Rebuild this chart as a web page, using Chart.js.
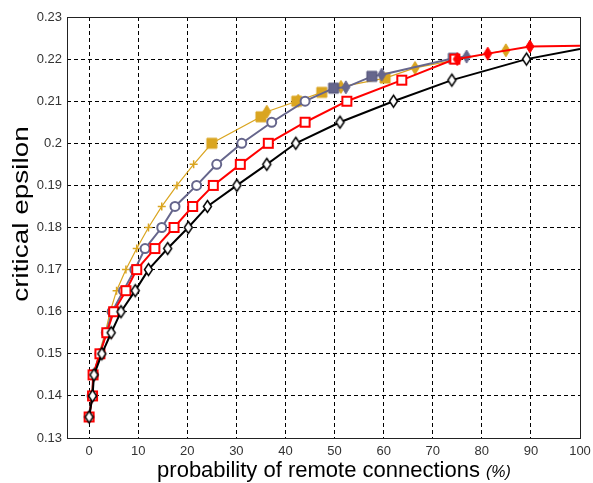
<!DOCTYPE html>
<html>
<head>
<meta charset="utf-8">
<script src="https://cdn.jsdelivr.net/npm/chart.js@4.4.1/dist/chart.umd.min.js"></script>
<style>
  html, body { margin: 0; padding: 0; background: #fff; }
</style>
</head>
<body>
<canvas id="chart" width="593" height="483"></canvas>
<script>
// tick labels
const xTicks = [0, 10, 20, 30, 40, 50, 60, 70, 80, 90, 100];
const yTicks = [0.13, 0.14, 0.15, 0.16, 0.17, 0.18, 0.19, 0.2, 0.21, 0.22, 0.23];

// black curve, open diamonds
const blackX = [0, 0.7, 1, 2.6, 4.5, 6.5, 9.4, 12.1, 16, 20.2, 24.1, 30.1, 36.2, 42.1, 51.1, 62, 73.9, 89.1];
const blackY = [0.135, 0.14, 0.145, 0.15, 0.155, 0.16, 0.165, 0.17, 0.175, 0.18, 0.185, 0.19, 0.195, 0.2, 0.205, 0.21, 0.215, 0.22];
const blackEnd = [100, 0.2224];

// red curve, open squares then filled diamonds
const redSqX = [0, 0.7, 0.8, 2.2, 3.6, 5, 7.5, 9.7, 13.4, 17.3, 21.1, 25.3, 30.8, 36.5, 44, 52.5, 63.7, 74.5];
const redSqY = [0.135, 0.14, 0.145, 0.15, 0.155, 0.16, 0.165, 0.17, 0.175, 0.18, 0.185, 0.19, 0.195, 0.2, 0.205, 0.21, 0.215, 0.22];
const redDiaX = [75, 81.2, 89.8];
const redDiaY = [0.22, 0.2213, 0.223];
const redEnd = [100, 0.2232];

// slate curve, open circles then filled squares / diamonds
const grayCircX = [0, 0.6, 0.9, 2.2, 3.5, 4.7, 7, 9.3, 11.4, 14.8, 17.5, 21.9, 26, 31.1, 37.2, 44];
const grayCircY = [0.135, 0.14, 0.145, 0.15, 0.155, 0.16, 0.165, 0.17, 0.175, 0.18, 0.185, 0.19, 0.195, 0.2, 0.205, 0.21];
const graySqX = [49.8, 57.6, 74.2];
const graySqY = [0.2131, 0.2159, 0.2202];
const grayDiaX = [52.3, 59.6, 76.9];
const grayDiaY = [0.2133, 0.2163, 0.2206];

// gold curve, crosses then filled squares / diamonds
const goldCrossX = [0, 0.5, 0.9, 2, 3.3, 4.3, 5.6, 7.5, 9.7, 12.1, 14.8, 17.9, 21.3];
const goldCrossY = [0.135, 0.14, 0.145, 0.15, 0.155, 0.16, 0.165, 0.17, 0.175, 0.18, 0.185, 0.19, 0.195];
const goldSqX = [25, 35, 42.3, 47.4, 60.3];
const goldSqY = [0.2, 0.2063, 0.21, 0.2121, 0.2155];
const goldDiaX = [36.2, 42.6, 51.3, 66.4, 84.9];
const goldDiaY = [0.2075, 0.2101, 0.2134, 0.2179, 0.2221];

const BLACK = '#000000', RED = '#ff0000', GRAY = '#66668c', GOLD = '#daa520';

const pts = (xs, ys) => xs.map((x, i) => ({ x: x, y: ys[i] }));
const byX = (a, b) => a.x - b.x;

// little canvases used as point styles (narrow matlab-like diamonds, squares)
function marker(shape, w, h, fill, stroke, lw) {
  const c = document.createElement('canvas');
  c.width = w + lw * 2 + 2;
  c.height = h + lw * 2 + 2;
  const g = c.getContext('2d');
  const cx = c.width / 2, cy = c.height / 2;
  g.beginPath();
  if (shape === 'diamond') {
    g.moveTo(cx, cy - h / 2);
    g.lineTo(cx + w / 2, cy);
    g.lineTo(cx, cy + h / 2);
    g.lineTo(cx - w / 2, cy);
    g.closePath();
  } else {
    g.rect(cx - w / 2, cy - h / 2, w, h);
  }
  if (fill) { g.fillStyle = fill; g.fill(); }
  g.lineWidth = lw;
  g.strokeStyle = stroke;
  g.stroke();
  return c;
}

const lineSet = (data, color, width) => ({
  data: data, showLine: true, borderColor: color, borderWidth: width,
  pointRadius: 0, tension: 0
});
const markSet = (data, style, extra) => Object.assign({
  data: data, showLine: false, pointStyle: style, pointRadius: 5
}, extra || {});

const goldLine = pts(goldCrossX, goldCrossY).concat(pts(goldSqX, goldSqY), pts(goldDiaX, goldDiaY)).sort(byX);
const grayLine = pts(grayCircX, grayCircY).concat(pts(graySqX, graySqY), pts(grayDiaX, grayDiaY)).sort(byX);
const redLine = pts(redSqX, redSqY).concat(pts(redDiaX, redDiaY), [{ x: redEnd[0], y: redEnd[1] }]).sort(byX);
const blackLine = pts(blackX, blackY).concat([{ x: blackEnd[0], y: blackEnd[1] }]);

const datasets = [
  markSet(pts(blackX, blackY), marker('diamond', 8, 12, '#fff', BLACK, 1.5)),
  lineSet(blackLine, BLACK, 2),
  markSet(pts(redDiaX, redDiaY), marker('diamond', 8, 13, RED, RED, 1)),
  markSet(pts(redSqX, redSqY), marker('square', 9, 9, '#fff', RED, 2)),
  lineSet(redLine, RED, 2),
  markSet(pts(grayDiaX, grayDiaY), marker('diamond', 8, 13, GRAY, GRAY, 1)),
  markSet(pts(graySqX, graySqY), marker('square', 10, 10, GRAY, '#55557a', 1)),
  markSet(pts(grayCircX, grayCircY), 'circle', { pointRadius: 4.5, borderWidth: 2, borderColor: GRAY, backgroundColor: '#fff' }),
  lineSet(grayLine, GRAY, 2),
  markSet(pts(goldDiaX, goldDiaY), marker('diamond', 8, 13, GOLD, GOLD, 1)),
  markSet(pts(goldSqX, goldSqY), marker('square', 10, 10, GOLD, GOLD, 1)),
  markSet(pts(goldCrossX, goldCrossY), 'cross', { pointRadius: 4, borderWidth: 1.5, borderColor: GOLD }),
  lineSet(goldLine, GOLD, 1.2)
];

const frameAndTitles = {
  id: 'frameAndTitles',
  afterDraw(chart) {
    const ctx = chart.ctx, a = chart.chartArea;
    ctx.save();
    ctx.strokeStyle = '#222';
    ctx.lineWidth = 1;
    ctx.strokeRect(Math.round(a.left) + 0.5, Math.round(a.top) + 0.5,
      Math.round(a.right - a.left), Math.round(a.bottom - a.top));

    ctx.fillStyle = '#000';
    ctx.textBaseline = 'alphabetic';
    // x title, "(%)" in italics
    const main = 'probability of remote connections ';
    const unit = '(%)';
    ctx.font = '22px "Liberation Sans", Arial, sans-serif';
    const w1 = ctx.measureText(main).width;
    ctx.font = 'italic 16px "Liberation Sans", Arial, sans-serif';
    const w2 = ctx.measureText(unit).width;
    let x0 = 334 - (w1 + w2) / 2;
    ctx.font = '22px "Liberation Sans", Arial, sans-serif';
    ctx.textAlign = 'left';
    ctx.fillText(main, x0, 477);
    ctx.font = 'italic 16px "Liberation Sans", Arial, sans-serif';
    ctx.fillText(unit, x0 + w1, 477);

    // y title
    ctx.translate(28, 214);
    ctx.rotate(-Math.PI / 2);
    ctx.scale(1.27, 1);
    ctx.font = '22px "Liberation Sans", Arial, sans-serif';
    ctx.textAlign = 'center';
    ctx.fillText('critical epsilon', 0, 0);
    ctx.restore();
  }
};

const tickFont = { family: '"Liberation Sans", Arial, sans-serif', size: 13 };

new Chart(document.getElementById('chart'), {
  type: 'scatter',
  data: { datasets: datasets },
  options: {
    responsive: false,
    animation: false,
    layout: { padding: { left: 0, right: 13, top: 17, bottom: 0 } },
    plugins: { legend: { display: false }, tooltip: { enabled: false } },
    scales: {
      x: {
        type: 'linear',
        min: -4.5,
        max: 100,
        afterBuildTicks: (s) => { s.ticks = xTicks.map(v => ({ value: v })); },
        afterFit: (s) => { s.height = 45; s.paddingRight = 0; s.paddingLeft = 0; },
        grid: { color: '#000', lineWidth: 1, drawTicks: false },
        border: { display: false, dash: [4, 3] },
        ticks: { color: '#333', font: tickFont, padding: 6, maxRotation: 0, autoSkip: false }
      },
      y: {
        type: 'linear',
        min: 0.13,
        max: 0.23,
        afterBuildTicks: (s) => { s.ticks = yTicks.map(v => ({ value: v })); },
        afterFit: (s) => { s.width = 67; s.paddingTop = 0; s.paddingBottom = 0; },
        grid: { color: '#000', lineWidth: 1, drawTicks: false },
        border: { display: false, dash: [4, 3] },
        ticks: {
          color: '#333', font: tickFont, padding: 5, autoSkip: false,
          callback: (v) => String(+Number(v).toFixed(2))
        }
      }
    }
  },
  plugins: [frameAndTitles]
});
</script>
</body>
</html>
